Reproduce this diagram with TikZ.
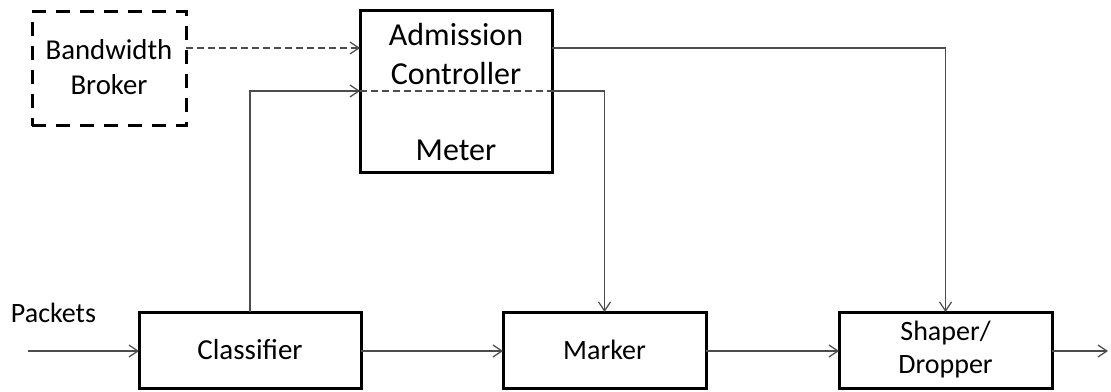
\documentclass[tikz,border=0pt]{standalone}
\usepackage{fontspec}
\setmainfont{Carlito}
\usetikzlibrary{arrows.meta,calc}
\begin{document}
\begin{tikzpicture}[x=0.5pt,y=0.5pt,
  font=\fontsize{14}{17}\selectfont,
  blk/.style={draw=black,line width=1.5pt,rectangle,inner sep=0pt,outer sep=0pt,align=center},
  dblk/.style={blk,dash pattern=on 7pt off 5pt},
  conn/.style={draw=black!70,line width=0.6pt,-{Straight Barb[length=4.5pt,width=6pt]}},
  dconn/.style={conn,dash pattern=on 3.5pt off 2pt},
  plain/.style={draw=black!70,line width=0.6pt},
  txt/.style={inner sep=0pt,align=center}]
\useasboundingbox (0,0) rectangle (1111,391);
% blocks
\node[dblk,minimum width=77pt,minimum height=57pt] (bb) at (109,322) {};
\node[txt,font=\fontsize{14.4}{17.5}\selectfont] (bbtxt) at (109,324) {Bandwidth\\Broker};
\node[blk,minimum width=96pt,minimum height=81pt] (adm) at (456,299) {};
\node[txt,font=\fontsize{16}{19.5}\selectfont] (admtxt) at (456,337) {Admission\\Controller};
\node[txt,font=\fontsize{16}{19.5}\selectfont] (meter) at (456,241) {Meter};
\node[blk,minimum width=111pt,minimum height=38pt,font=\fontsize{14.5}{17}\selectfont] (cls) at (250,41) {Classifier};
\node[blk,minimum width=101.5pt,minimum height=38pt] (mark) at (604.5,41) {Marker};
\node[blk,minimum width=106.5pt,minimum height=38pt,font=\fontsize{14}{16.5}\selectfont] (shp) at (945.5,41) {Shaper/\\Dropper};
\node[txt] (pk) at (53.5,78) {Packets};
% helper coordinates
\coordinate (y1) at (0,343);
\coordinate (y2) at (0,300);
\coordinate (in) at (28,40);
\coordinate (out) at (1108,40);
% connectors
\draw[dconn] (bb.east |- y1) -- (adm.west |- y1);
\draw[conn] (adm.east |- y1) -| (shp.north);
\draw[conn] (cls.north) |- (adm.west |- y2);
\draw[plain,dash pattern=on 3.5pt off 2pt] (adm.west |- y2) -- (adm.east |- y2);
\draw[conn] (adm.east |- y2) -| (mark.north);
\draw[conn] (in) -- (in -| cls.west);
\draw[conn] (cls.east |- in) -- (mark.west |- in);
\draw[conn] (mark.east |- in) -- (shp.west |- in);
\draw[conn] (shp.east |- in) -- (out);
\end{tikzpicture}
\end{document}
